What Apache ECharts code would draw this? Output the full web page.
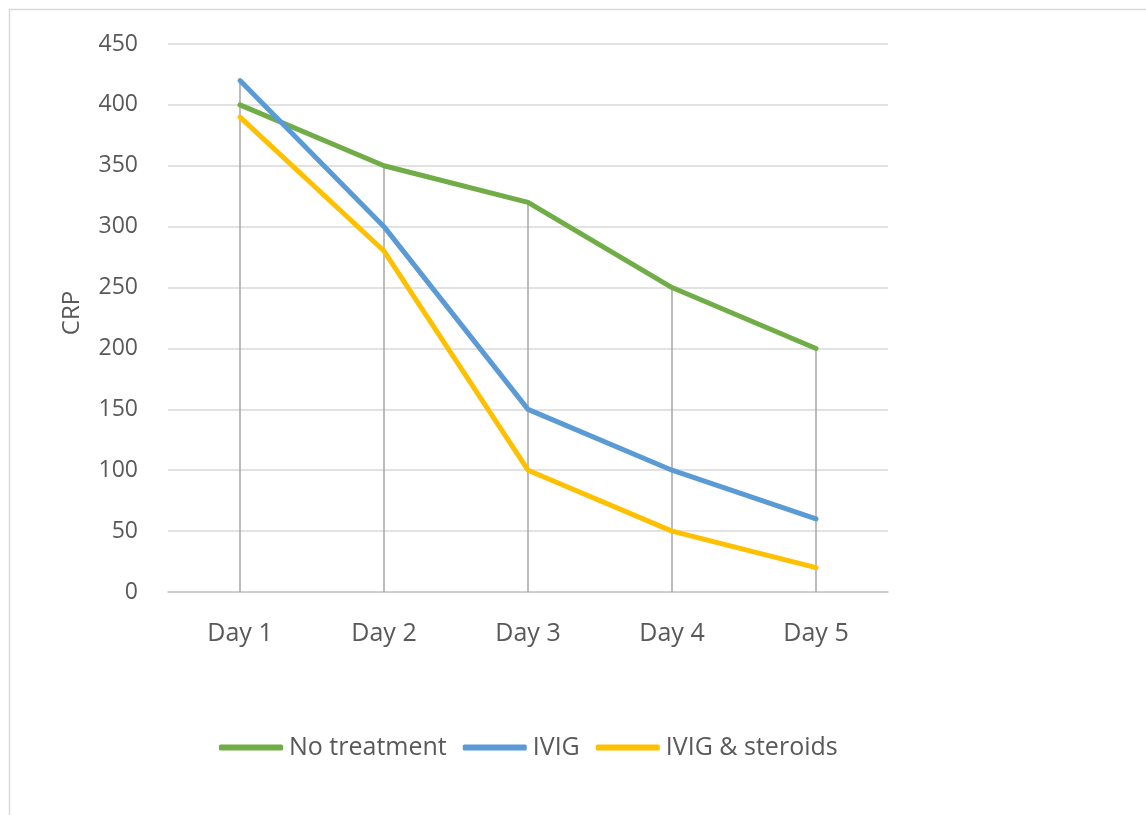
<!DOCTYPE html>
<html>
<head>
<meta charset="utf-8">
<script src="https://cdn.jsdelivr.net/npm/echarts@6/dist/echarts.min.js"></script>
<style>
  html, body { margin: 0; padding: 0; background: #fff; }
  #chart { width: 1146px; height: 815px; }
</style>
</head>
<body>
<div id="chart"></div>
<script>
// CRP levels over five days for three treatment groups
const categories = ['Day 1', 'Day 2', 'Day 3', 'Day 4', 'Day 5'];
const noTreatment = [400, 350, 320, 250, 200];
const ivig = [420, 300, 150, 100, 60];
const ivigSteroids = [390, 280, 100, 50, 20];
const yTicks = { min: 0, max: 450, interval: 50 };

// Highest value per day, used for the vertical drop lines
const dropTops = categories.map((_, i) => Math.max(noTreatment[i], ivig[i], ivigSteroids[i]));

const FONT = '"Open Sans", "Noto Sans", sans-serif';
const TEXT = '#595959';

const chart = echarts.init(document.getElementById('chart'), null, { renderer: 'canvas' });

const lineSeries = (name, data, color) => ({
  name, type: 'line', data,
  showSymbol: false, symbol: 'none',
  lineStyle: { color, width: 5, cap: 'round', join: 'round' },
  itemStyle: { color },
  z: 3
});

chart.setOption({
  animation: false,
  backgroundColor: '#fff',
  graphic: [{
    type: 'rect',
    shape: { x: 9.5, y: 9.5, width: 1200, height: 900 },
    style: { fill: 'none', stroke: '#d9d9d9', lineWidth: 1.5 },
    silent: true
  }],
  grid: { left: 168, right: 258, top: 44, bottom: 223 },
  legend: {
    bottom: 50,
    left: 214,
    itemWidth: 64,
    itemHeight: 6,
    itemGap: 16,
    icon: 'roundRect',
    textStyle: { fontFamily: FONT, fontSize: 25, color: TEXT, padding: [0, 0, 0, 1] },
    data: ['No treatment', 'IVIG', 'IVIG & steroids']
  },
  xAxis: {
    type: 'category',
    data: categories,
    boundaryGap: true,
    axisLine: { show: true, lineStyle: { color: '#c8c8c8', width: 1.5 } },
    axisTick: { show: false },
    axisLabel: { fontFamily: FONT, fontSize: 25, color: TEXT, margin: 29 }
  },
  yAxis: {
    type: 'value',
    min: yTicks.min, max: yTicks.max, interval: yTicks.interval,
    name: 'CRP',
    nameLocation: 'middle',
    nameGap: 84,
    nameRotate: 90,
    nameTextStyle: { fontFamily: FONT, fontSize: 24, color: TEXT, padding: [0, 0, 0, 10] },
    axisLine: { show: false },
    axisTick: { show: false },
    axisLabel: { fontFamily: FONT, fontSize: 23, color: TEXT, margin: 30 },
    splitLine: { lineStyle: { color: '#d9d9d9', width: 1.5 } }
  },
  series: [
    {
      name: 'drops',
      type: 'custom',
      data: dropTops.map((v, i) => [i, v]),
      renderItem: (params, api) => {
        const top = api.coord([api.value(0), api.value(1)]);
        const base = api.coord([api.value(0), 0]);
        return {
          type: 'line',
          shape: { x1: top[0], y1: top[1], x2: base[0], y2: base[1] },
          style: { stroke: '#a6a6a6', lineWidth: 1.5 }
        };
      },
      silent: true,
      z: 1
    },
    lineSeries('No treatment', noTreatment, '#70AD47'),
    lineSeries('IVIG', ivig, '#5B9BD5'),
    lineSeries('IVIG & steroids', ivigSteroids, '#FFC000')
  ]
});
</script>
</body>
</html>
